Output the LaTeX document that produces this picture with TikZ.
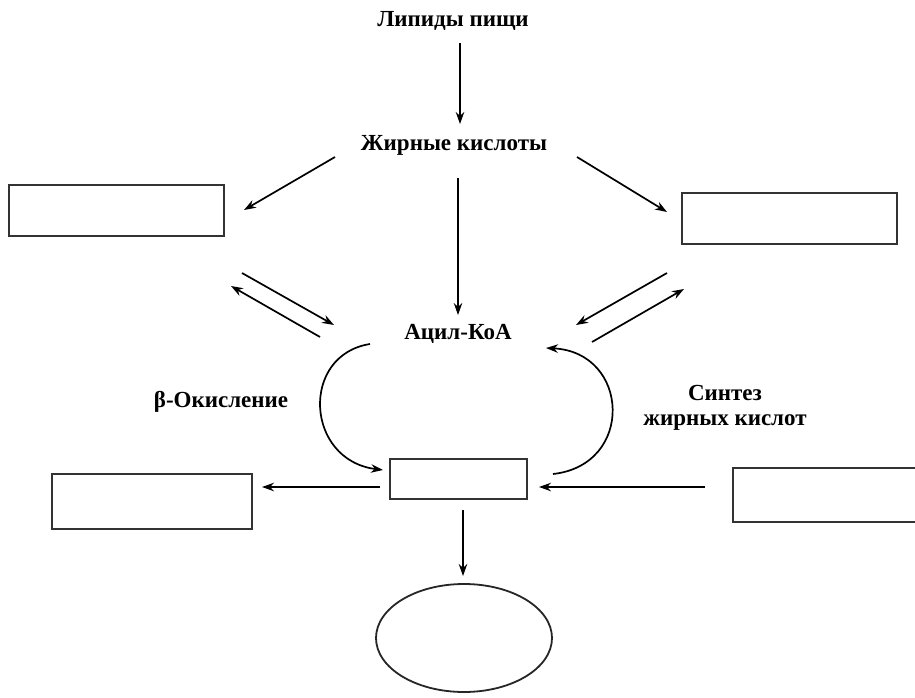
\documentclass[tikz,border=0pt]{standalone}
\usepackage{fontspec}
\setmainfont{Liberation Serif}
\usetikzlibrary{arrows.meta}
\begin{document}
\begin{tikzpicture}[x=1pt,y=-1pt,
  lbl/.style={font=\fontsize{23}{25}\selectfont\bfseries, inner sep=0pt, anchor=base},
  blank/.style={draw=black!80, line width=2pt, fill=white},
  arr/.style={line width=1.7pt, -{Stealth[length=12pt,width=8.5pt]}}]
\useasboundingbox (0,0) rectangle (915,698);
\clip (0,0) rectangle (915,698);
\fill[white] (0,0) rectangle (915,698);

% labels
\node[lbl] (lip) at (453,27) {Липиды пищи};
\node[lbl] (fa) at (454,150) {Жирные кислоты};
\node[lbl] (acyl) at (458,339) {Ацил-КоА};
\node[lbl] (box) at (221,407) {β-Окисление};
\node[lbl,align=center] (syn) at (725,425) {Синтез\\жирных кислот};

% empty boxes and ellipse
\draw[blank] (9,185) rectangle (224,236);
\draw[blank] (682,193) rectangle (897,244);
\draw[blank] (390,459) rectangle (527,499);
\draw[blank] (52,474) rectangle (252,529);
\draw[blank] (733,468) rectangle (940,522);
\draw[line width=1.8pt, draw=black!85] (464,638) ellipse [x radius=88, y radius=54];

% connector end points
\coordinate (a1) at (460,43);   \coordinate (a2) at (460,124);
\coordinate (b1) at (335,157);  \coordinate (b2) at (244,210);
\coordinate (c1) at (577,157);  \coordinate (c2) at (667,212);
\coordinate (d1) at (458,178);  \coordinate (d2) at (458,315);
\coordinate (e1) at (242,273);  \coordinate (e2) at (334,325);
\coordinate (f1) at (320,337);  \coordinate (f2) at (231,286);
\coordinate (g1) at (667,273);  \coordinate (g2) at (576,325);
\coordinate (h1) at (592,342);  \coordinate (h2) at (684,289);
\coordinate (i1) at (370,344);  \coordinate (i2) at (383,470);
\coordinate (j1) at (553,474);  \coordinate (j2) at (546,348);
\coordinate (k1) at (380,487);  \coordinate (k2) at (262,487);
\coordinate (l1) at (705,487);  \coordinate (l2) at (539,487);
\coordinate (m1) at (463,510);  \coordinate (m2) at (463,576);

% connectors
\draw[arr] (a1) -- (a2);
\draw[arr] (b1) -- (b2);
\draw[arr] (c1) -- (c2);
\draw[arr] (d1) -- (d2);
\draw[arr] (e1) -- (e2);
\draw[arr] (f1) -- (f2);
\draw[arr] (g1) -- (g2);
\draw[arr] (h1) -- (h2);
\draw[arr] (i1) .. controls (300,355) and (305,460) .. (i2);
\draw[arr] (j1) .. controls (635,465) and (630,352) .. (j2);
\draw[arr] (k1) -- (k2);
\draw[arr] (l1) -- (l2);
\draw[arr] (m1) -- (m2);
\end{tikzpicture}
\end{document}
